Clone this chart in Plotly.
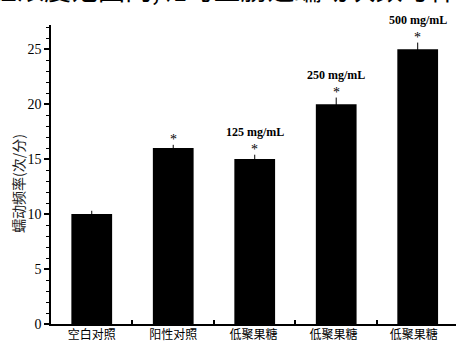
import plotly.graph_objects as go

categories = ["空白对照", "阳性对照", "低聚果糖 ", "低聚果糖  ", "低聚果糖   "]
values = [10, 16, 15, 20, 25]
errors = [0.3, 0.3, 0.4, 0.6, 0.6]
stars = ["", "*", "*", "*", "*"]
dose_labels = ["", "", "125 mg/mL", "250 mg/mL", "500 mg/mL"]
y_ticks = [0, 5, 10, 15, 20, 25]

fig = go.Figure()
fig.add_trace(go.Bar(
    x=categories, y=values,
    marker=dict(color="black", line=dict(width=0)),
    error_y=dict(type="data", array=errors, visible=True, color="black", thickness=1, width=0),
    width=0.5,
))

for c, v, e, s, d in zip(categories, values, errors, stars, dose_labels):
    if s:
        fig.add_annotation(x=c, y=v + e, text=s, showarrow=False, yanchor="bottom",
                           yshift=-4, font=dict(family="Liberation Serif", size=14, color="black"))
    if d:
        fig.add_annotation(x=c, y=v + e, text="<b>" + d + "</b>", showarrow=False, yanchor="bottom",
                           yshift=14, font=dict(family="Liberation Serif", size=12, color="black"))

fig.add_annotation(xref="paper", yref="paper", x=-0.155, y=1.05,
                   text="验浓度范围内,斑马鱼肠道蠕动次数与样",
                   showarrow=False, xanchor="left", yanchor="bottom",
                   font=dict(family="Noto Sans CJK SC", size=27, color="black"))

fig.add_annotation(xref="paper", yref="paper", x=-0.08, y=0.47, xanchor="center", yanchor="middle",
                   text="蠕动频率(次/分)", textangle=-90, showarrow=False,
                   font=dict(family="Noto Sans CJK SC", size=14, color="#222"))

fig.update_layout(
    width=456, height=343,
    margin=dict(l=51, r=0, t=25, b=19),
    paper_bgcolor="white", plot_bgcolor="white",
    showlegend=False,
    xaxis=dict(
        range=[-0.5, 4.47], showline=True, linecolor="black", linewidth=1.5,
        ticks="inside", tickson="boundaries", ticklen=4, tickcolor="black", tickwidth=1.5,
        tickfont=dict(family="Noto Sans CJK SC", size=12, color="black"),
        ticklabelstandoff=-1,
        showgrid=False, zeroline=False, automargin=False,
    ),
    yaxis=dict(
        range=[0, 27.2], showline=True, linecolor="black", linewidth=1.5,
        tickmode="array", tickvals=y_ticks, ticks="outside", ticklen=5, tickcolor="black", tickwidth=1.5,
        tickfont=dict(family="Liberation Serif", size=14, color="black"),
        minor=dict(dtick=1, ticks="outside", ticklen=3, tickcolor="black", tickwidth=1),
        showgrid=False, zeroline=False, automargin=False,
    ),
)

fig.write_html("out.html", config={"displayModeBar": False},
               post_script="document.body.style.margin='0';")
